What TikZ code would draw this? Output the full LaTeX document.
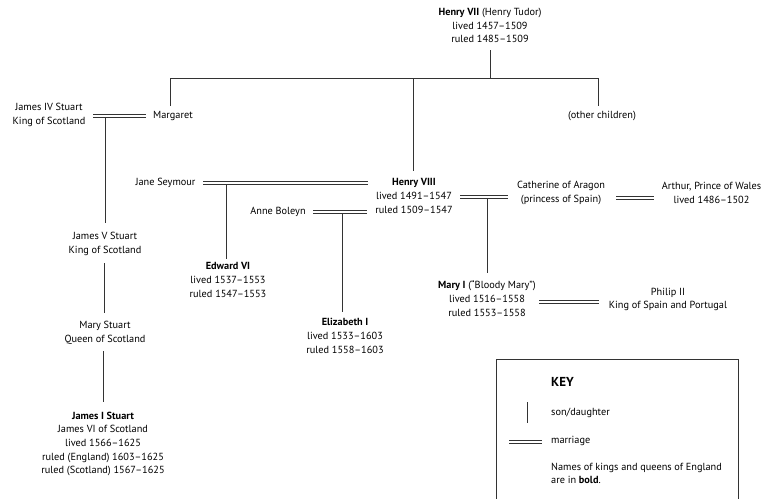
\documentclass[tikz,border=0pt]{standalone}
\usepackage{fontspec}
\setmainfont{PT Sans}
\begin{document}
\begin{tikzpicture}[x=1pt,y=-1pt,
  txt/.style={align=center, inner sep=0pt, font=\fontsize{10.3}{13.7}\selectfont, text=black},
  ltxt/.style={txt, align=left, anchor=west},
  kid/.style={draw=black!80, line width=0.9pt},
  wed/.style={draw=black!80, double=white, double distance=2.2pt, line width=0.8pt}]
\useasboundingbox (0,0) rectangle (763,498);

% people
\node[txt] (h7) at (490,25.5) {\textbf{Henry VII} (Henry Tudor)\\lived 1457–1509\\ruled 1485–1509};
\node[txt] (marg) at (173,116) {Margaret};
\node[txt] (j4) at (49,115) {James IV Stuart\\King of Scotland};
\node[txt] (oth) at (602,116) {(other children)};
\node[txt] (j5) at (105,244) {James V Stuart\\King of Scotland};
\node[txt] (ms) at (105,333) {Mary Stuart\\Queen of Scotland};
\node[txt] (j1) at (103,444) {\textbf{James I Stuart}\\James VI of Scotland\\lived 1566–1625\\ruled (England) 1603–1625\\ruled (Scotland) 1567–1625};
\node[txt] (jane) at (165.5,183) {Jane Seymour};
\node[txt] (anne) at (278,212) {Anne Boleyn};
\node[txt] (h8) at (414,196) {\textbf{Henry VIII}\\lived 1491–1547\\ruled 1509–1547};
\node[txt] (ed) at (228,280) {\textbf{Edward VI}\\lived 1537–1553\\ruled 1547–1553};
\node[txt] (eliz) at (345,336) {\textbf{Elizabeth I}\\lived 1533–1603\\ruled 1558–1603};
\node[txt] (cath) at (561,193) {Catherine of Aragon\\(princess of Spain)};
\node[txt] (arth) at (711.5,193) {Arthur, Prince of Wales\\lived 1486–1502};
\node[txt] (mary) at (487,298.5) {\textbf{Mary I} (“Bloody Mary”)\\lived 1516–1558\\ruled 1553–1558};
\node[txt] (phil) at (668,299.5) {Philip II\\King of Spain and Portugal};

% junctions
\coordinate (bar) at (490,78);
\coordinate (barL) at (170,78);
\coordinate (barR) at (598,78);
\coordinate (barH8) at (413,78);
\coordinate (wa1) at (93,116);  \coordinate (wb1) at (146,116);
\coordinate (wa2) at (203,183.3); \coordinate (wb2) at (368,183.3);
\coordinate (wa3) at (313,211.7); \coordinate (wb3) at (367,211.7);
\coordinate (wa4) at (460,197); \coordinate (wb4) at (508,197);
\coordinate (wa5) at (616,198); \coordinate (wb5) at (654,198);
\coordinate (wa6) at (539,302); \coordinate (wb6) at (599,302);

% children lines
\draw[kid] (bar |- 0,50) -- (bar);
\draw[kid] (barL |- 0,106) -- (barL) -- (barR) -- (barR |- 0,106);
\draw[kid] (barH8) -- (barH8 |- 0,171);
\draw[kid] (105,118) -- (105,223);
\draw[kid] (104,263) -- (104,313);
\draw[kid] (103,351) -- (103,402);
\draw[kid] (226,185) -- (226,259);
\draw[kid] (342,213.5) -- (342,312);
\draw[kid] (487,199) -- (487,273);

% marriages
\draw[wed] (wa1) -- (wb1);
\draw[wed] (wa2) -- (wb2);
\draw[wed] (wa3) -- (wb3);
\draw[wed] (wa4) -- (wb4);
\draw[wed] (wa5) -- (wb5);
\draw[wed] (wa6) -- (wb6);

% key
\draw[kid, line width=0.8pt] (496,499) -- (496,359.5) -- (738,359.5) -- (738,499);
\node[ltxt, font=\fontsize{13}{15}\selectfont\bfseries] (key) at (551,382) {KEY};
\coordinate (ks1) at (527,402); \coordinate (ks2) at (527,423);
\draw[kid] (ks1) -- (ks2);
\node[ltxt] (kson) at (551,413) {son/daughter};
\coordinate (km1) at (509,442); \coordinate (km2) at (542,442);
\draw[wed] (km1) -- (km2);
\node[ltxt] (kmar) at (551,441) {marriage};
\node[ltxt] (knote) at (551,473.5) {Names of kings and queens of England\\are in \textbf{bold}.};
\end{tikzpicture}
\end{document}
